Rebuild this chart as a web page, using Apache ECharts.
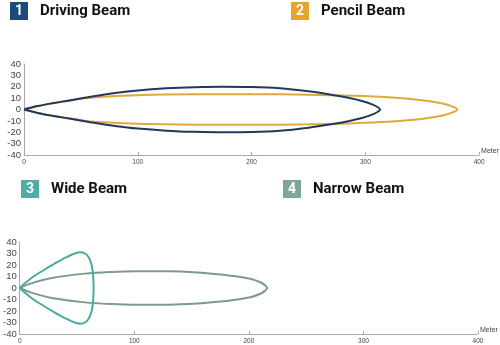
<!DOCTYPE html>
<html lang="en">
<head>
    <meta charset="UTF-8">
    <script src="https://cdn.jsdelivr.net/npm/echarts@6/dist/echarts.min.js"></script>
    <style>
        html, body { margin: 0; padding: 0; background: #fff; }
        #chart { width: 500px; height: 345px; }
    </style>
    <title>Beam patterns</title>
</head>
<body>
    <div id="chart"></div>
</body>
</html>
<script type="text/javascript">
    // beam outlines, [meter, spread]
    var drivingBeam = [
        [0, 0], [12, 3], [25, 5.5], [40, 8], [60, 11.5], [80, 14.5], [100, 16.8], [125, 18.6],
        [150, 19.6], [175, 20], [200, 19.8], [225, 18.7], [250, 16], [270, 13], [285, 10.3],
        [297, 7.5], [306, 4.5], [311, 2], [313, 0],
        [311, -2], [306, -4.5], [297, -7.5], [285, -10.3], [270, -13], [250, -16], [225, -18.7],
        [200, -19.8], [175, -20], [150, -19.6], [125, -18.6], [100, -16.8], [80, -14.5],
        [60, -11.5], [40, -8], [25, -5.5], [12, -3], [0, 0]
    ];
    var pencilBeam = [
        [0, 0], [12, 3], [25, 5.5], [40, 8], [55, 10], [70, 11.3], [100, 12.6], [150, 13.3],
        [200, 13.4], [250, 13], [290, 12], [320, 10.8], [340, 9.3], [355, 7.5], [368, 5.2],
        [376, 2.8], [381, 0],
        [376, -2.8], [368, -5.2], [355, -7.5], [340, -9.3], [320, -10.8], [290, -12], [250, -13],
        [200, -13.4], [150, -13.3], [100, -12.6], [70, -11.3], [55, -10], [40, -8], [25, -5.5],
        [12, -3], [0, 0]
    ];
    var wideBeam = [
        [0, 0], [5, 4.5], [12, 10], [20, 15], [30, 21], [40, 26.5], [48, 30], [53, 31], [57, 30],
        [60, 27], [62.5, 21], [63.8, 14], [64.3, 7], [64.5, 0],
        [64.3, -7], [63.8, -14], [62.5, -21], [60, -27], [57, -30], [53, -31], [48, -30],
        [40, -26.5], [30, -21], [20, -15], [12, -10], [5, -4.5], [0, 0]
    ];
    var narrowBeam = [
        [0, 0], [10, 4], [28, 8.7], [57, 12.5], [80, 14], [101, 14.6], [130, 14.5], [155, 13.5],
        [173, 12], [190, 10], [202, 7.8], [210, 5], [214, 2.5], [216, 0],
        [214, -2.5], [210, -5], [202, -7.8], [190, -10], [173, -12], [155, -13.5], [130, -14.5],
        [101, -14.6], [80, -14], [57, -12.5], [28, -8.7], [10, -4], [0, 0]
    ];

    var headings = ['Driving Beam', 'Pencil Beam', 'Wide Beam', 'Narrow Beam'];
    var boxColors = ['#1b4a7c', '#e6a429', '#4daea5', '#80a697'];
    var lineColors = ['#1f3a5a', '#e0a83a', '#4aaaa1', '#7d9a90'];

    var chartDom = document.getElementById('chart');
    var myChart = echarts.init(chartDom);
    var option;

    function heading(i, left, top) {
        return {
            left: left,
            top: top,
            padding: 0,
            text: '{n|' + (i + 1) + '}{t|' + headings[i] + '}',
            textStyle: {
                rich: {
                    n: {
                        width: 18, height: 18, lineHeight: 18, align: 'center',
                        backgroundColor: boxColors[i], color: '#fff',
                        fontSize: 14, fontWeight: 'bold', fontFamily: 'Roboto'
                    },
                    t: {
                        padding: [0, 0, 0, 12], color: '#111',
                        fontSize: 15, fontWeight: 'bold', fontFamily: 'Roboto'
                    }
                }
            }
        };
    }

    function xAx(idx) {
        return {
            type: 'value', gridIndex: idx, min: 0, max: 400, interval: 100,
            name: 'Meter', nameLocation: 'end', nameGap: 2,
            nameTextStyle: { fontSize: 7, color: '#444', verticalAlign: 'bottom', padding: [0, 0, 0, 0] },
            axisLine: { onZero: false, lineStyle: { color: '#aaa', width: 1 } },
            axisTick: { show: true, length: 3, inside: true, lineStyle: { color: '#aaa' } },
            axisLabel: { fontSize: 6.5, color: '#444', margin: 4 },
            splitLine: { show: false }
        };
    }

    function yAx(idx) {
        return {
            type: 'value', gridIndex: idx, min: -40, max: 40, interval: 10,
            axisLine: { show: true, onZero: false, lineStyle: { color: '#aaa', width: 1 } },
            axisTick: { show: false },
            axisLabel: { fontSize: 9.5, color: '#444', margin: 3 },
            splitLine: { show: false }
        };
    }

    function beam(data, color, idx) {
        return {
            type: 'line', xAxisIndex: idx, yAxisIndex: idx,
            data: data, smooth: 0.35, showSymbol: false, symbol: 'none',
            lineStyle: { color: color, width: 2 },
            silent: true
        };
    }

    option = {
        animation: false,
        title: [
            heading(0, 10, 2),
            heading(1, 291, 2),
            heading(2, 21, 180),
            heading(3, 283, 180)
        ],
        grid: [
            { left: 24, right: 20, top: 64, height: 91 },
            { left: 17, right: 22, top: 242, height: 92 }
        ],
        xAxis: [xAx(0), xAx(1)],
        yAxis: [yAx(0), yAx(1)],
        series: [
            beam(pencilBeam, lineColors[1], 0),
            beam(drivingBeam, lineColors[0], 0),
            beam(narrowBeam, lineColors[3], 1),
            beam(wideBeam, lineColors[2], 1)
        ]
    };
    option && myChart.setOption(option);
</script>
